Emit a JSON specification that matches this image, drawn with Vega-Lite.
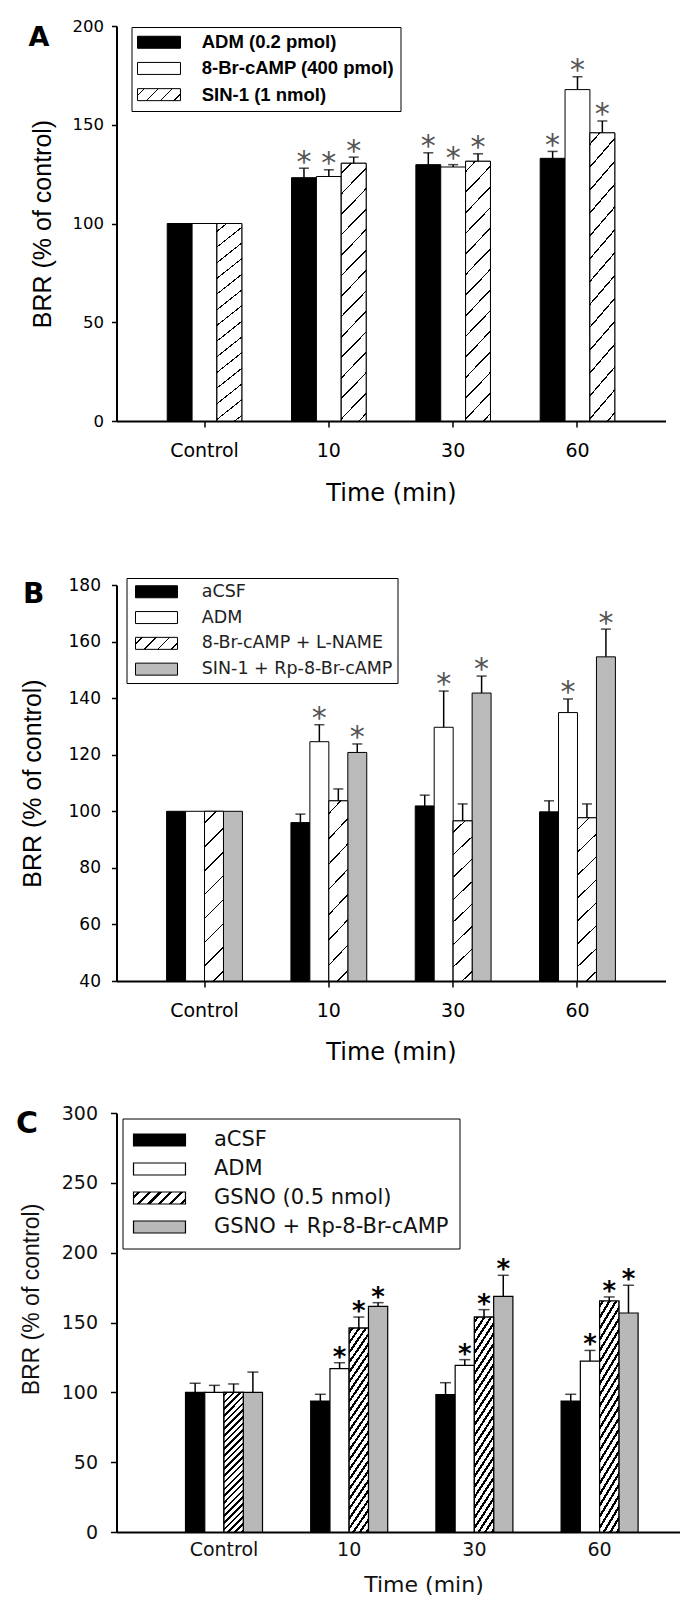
{
  "$schema": "https://vega.github.io/schema/vega-lite/v6.json",
  "padding": {"left": 15.5, "top": 18, "right": 2, "bottom": 2},
  "config": {"view": {"stroke": null}, "font": "DejaVu Sans", "axis": {"grid": false, "labelFlush": false}},
  "resolve": {"scale": {"color": "independent", "xOffset": "independent"}, "legend": {"color": "independent"}},
  "datasets": {
    "A": [
      {"time": "Control", "series": "ADM (0.2 pmol)", "mean": 100, "upper": null, "sig": false},
      {"time": "Control", "series": "8-Br-cAMP (400 pmol)", "mean": 100, "upper": null, "sig": false},
      {"time": "Control", "series": "SIN-1 (1 nmol)", "mean": 100, "upper": null, "sig": false},
      {"time": "10", "series": "ADM (0.2 pmol)", "mean": 123.2, "upper": 128, "sig": true},
      {"time": "10", "series": "8-Br-cAMP (400 pmol)", "mean": 123.8, "upper": 127.2, "sig": true},
      {"time": "10", "series": "SIN-1 (1 nmol)", "mean": 130.5, "upper": 133.6, "sig": true},
      {"time": "30", "series": "ADM (0.2 pmol)", "mean": 129.8, "upper": 135.8, "sig": true},
      {"time": "30", "series": "8-Br-cAMP (400 pmol)", "mean": 128.6, "upper": 129.8, "sig": true},
      {"time": "30", "series": "SIN-1 (1 nmol)", "mean": 131.5, "upper": 135.3, "sig": true},
      {"time": "60", "series": "ADM (0.2 pmol)", "mean": 133, "upper": 136.5, "sig": true},
      {"time": "60", "series": "8-Br-cAMP (400 pmol)", "mean": 167.8, "upper": 174.3, "sig": true},
      {"time": "60", "series": "SIN-1 (1 nmol)", "mean": 145.9, "upper": 151.9, "sig": true}
    ],
    "B": [
      {"time": "Control", "series": "aCSF", "mean": 100, "upper": null, "sig": false},
      {"time": "Control", "series": "ADM", "mean": 100, "upper": null, "sig": false},
      {"time": "Control", "series": "8-Br-cAMP + L-NAME", "mean": 100, "upper": null, "sig": false},
      {"time": "Control", "series": "SIN-1 + Rp-8-Br-cAMP", "mean": 100, "upper": null, "sig": false},
      {"time": "10", "series": "aCSF", "mean": 96, "upper": 99, "sig": false},
      {"time": "10", "series": "ADM", "mean": 124.6, "upper": 130.6, "sig": true},
      {"time": "10", "series": "8-Br-cAMP + L-NAME", "mean": 103.7, "upper": 107.9, "sig": false},
      {"time": "10", "series": "SIN-1 + Rp-8-Br-cAMP", "mean": 120.8, "upper": 123.8, "sig": true},
      {"time": "30", "series": "aCSF", "mean": 101.9, "upper": 105.7, "sig": false},
      {"time": "30", "series": "ADM", "mean": 129.7, "upper": 142.5, "sig": true},
      {"time": "30", "series": "8-Br-cAMP + L-NAME", "mean": 96.6, "upper": 102.6, "sig": false},
      {"time": "30", "series": "SIN-1 + Rp-8-Br-cAMP", "mean": 141.8, "upper": 147.8, "sig": true},
      {"time": "60", "series": "aCSF", "mean": 99.8, "upper": 103.7, "sig": false},
      {"time": "60", "series": "ADM", "mean": 134.9, "upper": 139.7, "sig": true},
      {"time": "60", "series": "8-Br-cAMP + L-NAME", "mean": 97.7, "upper": 102.6, "sig": false},
      {"time": "60", "series": "SIN-1 + Rp-8-Br-cAMP", "mean": 154.6, "upper": 164.4, "sig": true}
    ],
    "C": [
      {"time": "Control", "series": "aCSF", "mean": 100, "upper": 106.5, "sig": false},
      {"time": "Control", "series": "ADM", "mean": 100, "upper": 105, "sig": false},
      {"time": "Control", "series": "GSNO (0.5 nmol)", "mean": 100, "upper": 106, "sig": false},
      {"time": "Control", "series": "GSNO + Rp-8-Br-cAMP", "mean": 100, "upper": 114.5, "sig": false},
      {"time": "10", "series": "aCSF", "mean": 93.8, "upper": 98.6, "sig": false},
      {"time": "10", "series": "ADM", "mean": 117, "upper": 121.2, "sig": true},
      {"time": "10", "series": "GSNO (0.5 nmol)", "mean": 146, "upper": 153.9, "sig": true},
      {"time": "10", "series": "GSNO + Rp-8-Br-cAMP", "mean": 161.6, "upper": 164.2, "sig": true},
      {"time": "30", "series": "aCSF", "mean": 98.3, "upper": 106.9, "sig": false},
      {"time": "30", "series": "ADM", "mean": 119.3, "upper": 123.4, "sig": true},
      {"time": "30", "series": "GSNO (0.5 nmol)", "mean": 153.9, "upper": 159.2, "sig": true},
      {"time": "30", "series": "GSNO + Rp-8-Br-cAMP", "mean": 168.7, "upper": 183.8, "sig": true},
      {"time": "60", "series": "aCSF", "mean": 93.8, "upper": 98.6, "sig": false},
      {"time": "60", "series": "ADM", "mean": 122.4, "upper": 130, "sig": true},
      {"time": "60", "series": "GSNO (0.5 nmol)", "mean": 165.4, "upper": 168.3, "sig": true},
      {"time": "60", "series": "GSNO + Rp-8-Br-cAMP", "mean": 156.8, "upper": 176.6, "sig": true}
    ]
  },
  "spacing": 40,
  "vconcat": [
    {
      "spacing": 71,
      "resolve": {"scale": {"color": "independent", "xOffset": "independent"}, "legend": {"color": "independent"}},
      "vconcat": [
        {
          "width": 549, "height": 395,
          "title": {"text": "A", "orient": "top", "anchor": "start", "frame": "group", "offset": 0, "dx": -88, "dy": 34, "baseline": "top", "font": "DejaVu Sans", "fontSize": 27, "fontWeight": "bold", "color": "black"},
          "data": {"name": "A"},
          "encoding": {
            "x": {"field": "time", "type": "nominal", "title": "Time (min)",
              "scale": {"domain": ["Control", "10", "30", "60"], "paddingInner": 0.4, "paddingOuter": 0.408},
              "axis": {"labelAngle": 0, "domainColor": "black", "domainWidth": 2, "tickColor": "black", "tickSize": 6, "tickWidth": 1.5, "labelFont": "DejaVu Sans", "labelFontSize": 19, "labelColor": "black", "labelPadding": 14, "titleFont": "DejaVu Sans", "titleFontSize": 24, "titleFontWeight": "normal", "titleColor": "black", "titlePadding": 21}},
            "xOffset": {"field": "series", "type": "nominal", "scale": {"domain": ["ADM (0.2 pmol)", "8-Br-cAMP (400 pmol)", "SIN-1 (1 nmol)"], "paddingInner": 0, "paddingOuter": 0}}
          },
          "layer": [
            {
              "mark": {"type": "bar", "stroke": "black", "strokeWidth": 1},
              "encoding": {
                "y": {"field": "mean", "type": "quantitative", "title": "BRR (% of control)",
                  "scale": {"domain": [0, 200], "nice": false, "zero": false},
                  "axis": {"values": [0, 50, 100, 150, 200], "domainColor": "black", "domainWidth": 2, "tickColor": "black", "tickSize": 5, "tickWidth": 1.5, "labelFont": "DejaVu Sans", "labelFontSize": 16.5, "labelColor": "black", "labelPadding": 8, "titleFont": "Liberation Sans", "titleFontSize": 25, "titleFontWeight": "normal", "titleColor": "black", "titlePadding": 16.5}},
                "color": {"field": "series", "type": "nominal",
                  "scale": {"domain": ["ADM (0.2 pmol)", "8-Br-cAMP (400 pmol)", "SIN-1 (1 nmol)"], "range": ["black", "white", {"expr": "{gradient: 'linear', x1: 0, y1: 0, x2: 1.2, y2: 0.335, stops: [{offset: 0, color: 'white'}, {offset: 0.11, color: 'white'}, {offset: 0.11, color: 'black'}, {offset: 0.14, color: 'black'}, {offset: 0.14, color: 'white'}, {offset: 0.36, color: 'white'}, {offset: 0.36, color: 'black'}, {offset: 0.39, color: 'black'}, {offset: 0.39, color: 'white'}, {offset: 0.61, color: 'white'}, {offset: 0.61, color: 'black'}, {offset: 0.64, color: 'black'}, {offset: 0.64, color: 'white'}, {offset: 0.86, color: 'white'}, {offset: 0.86, color: 'black'}, {offset: 0.89, color: 'black'}, {offset: 0.89, color: 'white'}, {offset: 1, color: 'white'}]}"}]},
                  "legend": {"title": null, "orient": "none", "legendX": 15, "legendY": 1, "direction": "vertical", "strokeColor": "black", "fillColor": "white", "padding": 6,
                    "symbolType": "M-3.58,-1H3.58V1H-3.58Z", "symbolSize": 144, "symbolStrokeWidth": 1, "symbolStrokeColor": "black", "symbolOffset": 12.25,
                    "labelFont": "Liberation Sans", "labelFontSize": 18.5, "labelFontWeight": "bold", "labelColor": "black", "labelOffset": 33.5, "labelLimit": 400, "rowPadding": 7.2}}
              }
            },
            {
              "transform": [{"filter": "datum.series === 'SIN-1 (1 nmol)'"}],
              "mark": {"type": "bar", "stroke": "black", "strokeWidth": 1, "fill": {"gradient": "linear", "x1": 0, "y1": 0, "x2": 0.11, "y2": 1.1, "stops": [
                {"offset": 0, "color": "white"},
                {"offset": 0.0327, "color": "white"}, {"offset": 0.0327, "color": "black"}, {"offset": 0.0387, "color": "black"}, {"offset": 0.0387, "color": "white"},
                {"offset": 0.1041, "color": "white"}, {"offset": 0.1041, "color": "black"}, {"offset": 0.1101, "color": "black"}, {"offset": 0.1101, "color": "white"},
                {"offset": 0.1756, "color": "white"}, {"offset": 0.1756, "color": "black"}, {"offset": 0.1816, "color": "black"}, {"offset": 0.1816, "color": "white"},
                {"offset": 0.247, "color": "white"}, {"offset": 0.247, "color": "black"}, {"offset": 0.253, "color": "black"}, {"offset": 0.253, "color": "white"},
                {"offset": 0.3184, "color": "white"}, {"offset": 0.3184, "color": "black"}, {"offset": 0.3244, "color": "black"}, {"offset": 0.3244, "color": "white"},
                {"offset": 0.3899, "color": "white"}, {"offset": 0.3899, "color": "black"}, {"offset": 0.3959, "color": "black"}, {"offset": 0.3959, "color": "white"},
                {"offset": 0.4613, "color": "white"}, {"offset": 0.4613, "color": "black"}, {"offset": 0.4673, "color": "black"}, {"offset": 0.4673, "color": "white"},
                {"offset": 0.5327, "color": "white"}, {"offset": 0.5327, "color": "black"}, {"offset": 0.5387, "color": "black"}, {"offset": 0.5387, "color": "white"},
                {"offset": 0.6041, "color": "white"}, {"offset": 0.6041, "color": "black"}, {"offset": 0.6101, "color": "black"}, {"offset": 0.6101, "color": "white"},
                {"offset": 0.6756, "color": "white"}, {"offset": 0.6756, "color": "black"}, {"offset": 0.6816, "color": "black"}, {"offset": 0.6816, "color": "white"},
                {"offset": 0.747, "color": "white"}, {"offset": 0.747, "color": "black"}, {"offset": 0.753, "color": "black"}, {"offset": 0.753, "color": "white"},
                {"offset": 0.8184, "color": "white"}, {"offset": 0.8184, "color": "black"}, {"offset": 0.8244, "color": "black"}, {"offset": 0.8244, "color": "white"},
                {"offset": 0.8899, "color": "white"}, {"offset": 0.8899, "color": "black"}, {"offset": 0.8959, "color": "black"}, {"offset": 0.8959, "color": "white"},
                {"offset": 0.9613, "color": "white"}, {"offset": 0.9613, "color": "black"}, {"offset": 0.9673, "color": "black"}, {"offset": 0.9673, "color": "white"},
                {"offset": 1, "color": "white"}]}},
              "encoding": {"y": {"field": "mean", "type": "quantitative", "title": "BRR (% of control)"}}
            },
            {
              "transform": [{"filter": "datum.upper != null"}],
              "mark": {"type": "rule", "color": "black", "strokeWidth": 1.5},
              "encoding": {"y": {"field": "mean", "type": "quantitative", "title": "BRR (% of control)"}, "y2": {"field": "upper"}}
            },
            {
              "transform": [{"filter": "datum.upper != null"}],
              "mark": {"type": "tick", "orient": "horizontal", "size": 10, "thickness": 1.5, "color": "black"},
              "encoding": {"y": {"field": "upper", "type": "quantitative", "title": "BRR (% of control)"}}
            },
            {
              "transform": [{"filter": "datum.sig"}],
              "mark": {"type": "text", "text": "*", "font": "DejaVu Sans", "fontSize": 30, "color": "#555", "baseline": "alphabetic", "dy": 3.4},
              "encoding": {"y": {"field": "upper", "type": "quantitative", "title": "BRR (% of control)"}}
            }
          ]
        },
        {
          "width": 549, "height": 396,
          "title": {"text": "B", "orient": "top", "anchor": "start", "frame": "group", "offset": 0, "dx": -93.5, "dy": 33, "baseline": "top", "font": "DejaVu Sans", "fontSize": 28, "fontWeight": "bold", "color": "black"},
          "data": {"name": "B"},
          "encoding": {
            "x": {"field": "time", "type": "nominal", "title": "Time (min)",
              "scale": {"domain": ["Control", "10", "30", "60"], "paddingInner": 0.39, "paddingOuter": 0.403},
              "axis": {"labelAngle": 0, "domainColor": "black", "domainWidth": 2, "tickColor": "black", "tickSize": 6, "tickWidth": 1.5, "labelFont": "DejaVu Sans", "labelFontSize": 19, "labelColor": "black", "labelPadding": 14, "titleFont": "DejaVu Sans", "titleFontSize": 24, "titleFontWeight": "normal", "titleColor": "black", "titlePadding": 20}},
            "xOffset": {"field": "series", "type": "nominal", "scale": {"domain": ["aCSF", "ADM", "8-Br-cAMP + L-NAME", "SIN-1 + Rp-8-Br-cAMP"], "paddingInner": 0, "paddingOuter": 0}}
          },
          "layer": [
            {
              "mark": {"type": "bar", "stroke": "black", "strokeWidth": 1},
              "encoding": {
                "y": {"field": "mean", "type": "quantitative", "title": "BRR (% of control)",
                  "scale": {"domain": [40, 180], "nice": false, "zero": false},
                  "axis": {"values": [40, 60, 80, 100, 120, 140, 160, 180], "domainColor": "black", "domainWidth": 2, "tickColor": "black", "tickSize": 5, "tickWidth": 1.5, "labelFont": "DejaVu Sans", "labelFontSize": 17, "labelColor": "black", "labelPadding": 11, "titleFont": "Liberation Sans", "titleFontSize": 25, "titleFontWeight": "normal", "titleColor": "black", "titlePadding": 22.6}},
                "y2": {"datum": 40},
                "color": {"field": "series", "type": "nominal",
                  "scale": {"domain": ["aCSF", "ADM", "8-Br-cAMP + L-NAME", "SIN-1 + Rp-8-Br-cAMP"], "range": ["black", "white", {"expr": "{gradient: 'linear', x1: 0, y1: 0, x2: 1.2, y2: 0.343, stops: [{offset: 0, color: 'white'}, {offset: 0.11, color: 'white'}, {offset: 0.11, color: 'black'}, {offset: 0.14, color: 'black'}, {offset: 0.14, color: 'white'}, {offset: 0.36, color: 'white'}, {offset: 0.36, color: 'black'}, {offset: 0.39, color: 'black'}, {offset: 0.39, color: 'white'}, {offset: 0.61, color: 'white'}, {offset: 0.61, color: 'black'}, {offset: 0.64, color: 'black'}, {offset: 0.64, color: 'white'}, {offset: 0.86, color: 'white'}, {offset: 0.86, color: 'black'}, {offset: 0.89, color: 'black'}, {offset: 0.89, color: 'white'}, {offset: 1, color: 'white'}]}"}, "#bababa"]},
                  "legend": {"title": null, "orient": "none", "legendX": 10, "legendY": -7, "direction": "vertical", "strokeColor": "black", "fillColor": "white", "padding": 5,
                    "symbolType": "M-3.5,-1H3.5V1H-3.5Z", "symbolSize": 144, "symbolStrokeWidth": 1, "symbolStrokeColor": "black", "symbolOffset": 16.25,
                    "labelFont": "DejaVu Sans", "labelFontSize": 17.5, "labelFontWeight": "normal", "labelColor": "#222", "labelOffset": 36.5, "labelLimit": 400, "rowPadding": 6.8}}
              }
            },
            {
              "transform": [{"filter": "datum.series === '8-Br-cAMP + L-NAME'"}],
              "mark": {"type": "bar", "stroke": "black", "strokeWidth": 1, "fill": {"gradient": "linear", "x1": 0, "y1": 0, "x2": 0.124, "y2": 1.109, "stops": [
                {"offset": 0, "color": "white"},
                {"offset": 0.0585, "color": "white"}, {"offset": 0.0585, "color": "black"}, {"offset": 0.0665, "color": "black"}, {"offset": 0.0665, "color": "white"},
                {"offset": 0.1835, "color": "white"}, {"offset": 0.1835, "color": "black"}, {"offset": 0.1915, "color": "black"}, {"offset": 0.1915, "color": "white"},
                {"offset": 0.3085, "color": "white"}, {"offset": 0.3085, "color": "black"}, {"offset": 0.3165, "color": "black"}, {"offset": 0.3165, "color": "white"},
                {"offset": 0.4335, "color": "white"}, {"offset": 0.4335, "color": "black"}, {"offset": 0.4415, "color": "black"}, {"offset": 0.4415, "color": "white"},
                {"offset": 0.5585, "color": "white"}, {"offset": 0.5585, "color": "black"}, {"offset": 0.5665, "color": "black"}, {"offset": 0.5665, "color": "white"},
                {"offset": 0.6835, "color": "white"}, {"offset": 0.6835, "color": "black"}, {"offset": 0.6915, "color": "black"}, {"offset": 0.6915, "color": "white"},
                {"offset": 0.8085, "color": "white"}, {"offset": 0.8085, "color": "black"}, {"offset": 0.8165, "color": "black"}, {"offset": 0.8165, "color": "white"},
                {"offset": 0.9335, "color": "white"}, {"offset": 0.9335, "color": "black"}, {"offset": 0.9415, "color": "black"}, {"offset": 0.9415, "color": "white"},
                {"offset": 1, "color": "white"}]}},
              "encoding": {"y": {"field": "mean", "type": "quantitative", "title": "BRR (% of control)"}, "y2": {"datum": 40}}
            },
            {
              "transform": [{"filter": "datum.upper != null"}],
              "mark": {"type": "rule", "color": "black", "strokeWidth": 1.5},
              "encoding": {"y": {"field": "mean", "type": "quantitative", "title": "BRR (% of control)"}, "y2": {"field": "upper"}}
            },
            {
              "transform": [{"filter": "datum.upper != null"}],
              "mark": {"type": "tick", "orient": "horizontal", "size": 10, "thickness": 1.5, "color": "black"},
              "encoding": {"y": {"field": "upper", "type": "quantitative", "title": "BRR (% of control)"}}
            },
            {
              "transform": [{"filter": "datum.sig"}],
              "mark": {"type": "text", "text": "*", "font": "DejaVu Sans", "fontSize": 30, "color": "#555", "baseline": "alphabetic", "dy": 3.4},
              "encoding": {"y": {"field": "upper", "type": "quantitative", "title": "BRR (% of control)"}}
            }
          ]
        }
      ]
    },
    {
      "width": 563, "height": 419,
      "title": {"text": "C", "orient": "top", "anchor": "start", "frame": "group", "offset": 0, "dx": -100.5, "dy": 35, "baseline": "top", "font": "DejaVu Sans", "fontSize": 30, "fontWeight": "bold", "color": "black"},
      "data": {"name": "C"},
      "encoding": {
        "x": {"field": "time", "type": "nominal", "title": "Time (min)",
          "scale": {"domain": ["Control", "10", "30", "60"], "paddingInner": 0.385, "paddingOuter": 0.441, "align": 0.625},
          "axis": {"labelAngle": 0, "domainColor": "black", "domainWidth": 2, "ticks": false, "tickSize": 0, "labelFont": "DejaVu Sans", "labelFontSize": 19, "labelColor": "#111", "labelPadding": 8, "titleFont": "DejaVu Sans", "titleFontSize": 22, "titleFontWeight": "normal", "titleColor": "#111", "titlePadding": 15.6, "titleX": 307}},
        "xOffset": {"field": "series", "type": "nominal", "scale": {"domain": ["aCSF", "ADM", "GSNO (0.5 nmol)", "GSNO + Rp-8-Br-cAMP"], "paddingInner": 0, "paddingOuter": 0}}
      },
      "layer": [
        {
          "mark": {"type": "bar", "stroke": "black", "strokeWidth": 1.2},
          "encoding": {
            "y": {"field": "mean", "type": "quantitative", "title": "BRR (% of control)",
              "scale": {"domain": [0, 300], "nice": false, "zero": false},
              "axis": {"values": [0, 50, 100, 150, 200, 250, 300], "domainColor": "black", "domainWidth": 2, "tickColor": "black", "tickSize": 6, "tickWidth": 1.5, "labelFont": "DejaVu Sans", "labelFontSize": 19, "labelColor": "#111", "labelPadding": 13, "titleFont": "Liberation Sans", "titleFontSize": 23, "titleFontWeight": "normal", "titleColor": "#111", "titlePadding": 17.7, "titleY": 186}},
            "color": {"field": "series", "type": "nominal",
              "scale": {"domain": ["aCSF", "ADM", "GSNO (0.5 nmol)", "GSNO + Rp-8-Br-cAMP"], "range": ["black", "white", {"expr": "{gradient: 'linear', x1: 0, y1: 0, x2: 1.18, y2: 0.272, stops: [{offset: 0, color: 'white'}, {offset: 0.0583, color: 'white'}, {offset: 0.0583, color: 'black'}, {offset: 0.1083, color: 'black'}, {offset: 0.1083, color: 'white'}, {offset: 0.225, color: 'white'}, {offset: 0.225, color: 'black'}, {offset: 0.275, color: 'black'}, {offset: 0.275, color: 'white'}, {offset: 0.3917, color: 'white'}, {offset: 0.3917, color: 'black'}, {offset: 0.4417, color: 'black'}, {offset: 0.4417, color: 'white'}, {offset: 0.5583, color: 'white'}, {offset: 0.5583, color: 'black'}, {offset: 0.6083, color: 'black'}, {offset: 0.6083, color: 'white'}, {offset: 0.725, color: 'white'}, {offset: 0.725, color: 'black'}, {offset: 0.775, color: 'black'}, {offset: 0.775, color: 'white'}, {offset: 0.8917, color: 'white'}, {offset: 0.8917, color: 'black'}, {offset: 0.9417, color: 'black'}, {offset: 0.9417, color: 'white'}, {offset: 1, color: 'white'}]}"}, "#b8b8b8"]},
              "legend": {"title": null, "orient": "none", "legendX": 6, "legendY": 5.5, "direction": "vertical", "strokeColor": "black", "fillColor": "white", "padding": 11,
                "symbolType": "M-4.33,-1H4.33V1H-4.33Z", "symbolSize": 144, "symbolStrokeWidth": 1.2, "symbolStrokeColor": "black", "symbolOffset": 15.5,
                "labelFont": "DejaVu Sans", "labelFontSize": 21, "labelFontWeight": "normal", "labelColor": "#111", "labelOffset": 44, "labelLimit": 400, "rowPadding": 7}}
          }
        },
        {
          "transform": [{"filter": "datum.series === 'GSNO (0.5 nmol)'"}],
          "mark": {"type": "bar", "stroke": "black", "strokeWidth": 1.2, "fill": {"gradient": "linear", "x1": 0, "y1": 0, "x2": 0.156, "y2": 1.128, "stops": [
            {"offset": 0, "color": "white"},
            {"offset": 0.0128, "color": "white"}, {"offset": 0.0128, "color": "black"}, {"offset": 0.0288, "color": "black"}, {"offset": 0.0288, "color": "white"},
            {"offset": 0.0545, "color": "white"}, {"offset": 0.0545, "color": "black"}, {"offset": 0.0705, "color": "black"}, {"offset": 0.0705, "color": "white"},
            {"offset": 0.0962, "color": "white"}, {"offset": 0.0962, "color": "black"}, {"offset": 0.1122, "color": "black"}, {"offset": 0.1122, "color": "white"},
            {"offset": 0.1378, "color": "white"}, {"offset": 0.1378, "color": "black"}, {"offset": 0.1538, "color": "black"}, {"offset": 0.1538, "color": "white"},
            {"offset": 0.1795, "color": "white"}, {"offset": 0.1795, "color": "black"}, {"offset": 0.1955, "color": "black"}, {"offset": 0.1955, "color": "white"},
            {"offset": 0.2212, "color": "white"}, {"offset": 0.2212, "color": "black"}, {"offset": 0.2372, "color": "black"}, {"offset": 0.2372, "color": "white"},
            {"offset": 0.2628, "color": "white"}, {"offset": 0.2628, "color": "black"}, {"offset": 0.2788, "color": "black"}, {"offset": 0.2788, "color": "white"},
            {"offset": 0.3045, "color": "white"}, {"offset": 0.3045, "color": "black"}, {"offset": 0.3205, "color": "black"}, {"offset": 0.3205, "color": "white"},
            {"offset": 0.3462, "color": "white"}, {"offset": 0.3462, "color": "black"}, {"offset": 0.3622, "color": "black"}, {"offset": 0.3622, "color": "white"},
            {"offset": 0.3878, "color": "white"}, {"offset": 0.3878, "color": "black"}, {"offset": 0.4038, "color": "black"}, {"offset": 0.4038, "color": "white"},
            {"offset": 0.4295, "color": "white"}, {"offset": 0.4295, "color": "black"}, {"offset": 0.4455, "color": "black"}, {"offset": 0.4455, "color": "white"},
            {"offset": 0.4712, "color": "white"}, {"offset": 0.4712, "color": "black"}, {"offset": 0.4872, "color": "black"}, {"offset": 0.4872, "color": "white"},
            {"offset": 0.5128, "color": "white"}, {"offset": 0.5128, "color": "black"}, {"offset": 0.5288, "color": "black"}, {"offset": 0.5288, "color": "white"},
            {"offset": 0.5545, "color": "white"}, {"offset": 0.5545, "color": "black"}, {"offset": 0.5705, "color": "black"}, {"offset": 0.5705, "color": "white"},
            {"offset": 0.5962, "color": "white"}, {"offset": 0.5962, "color": "black"}, {"offset": 0.6122, "color": "black"}, {"offset": 0.6122, "color": "white"},
            {"offset": 0.6378, "color": "white"}, {"offset": 0.6378, "color": "black"}, {"offset": 0.6538, "color": "black"}, {"offset": 0.6538, "color": "white"},
            {"offset": 0.6795, "color": "white"}, {"offset": 0.6795, "color": "black"}, {"offset": 0.6955, "color": "black"}, {"offset": 0.6955, "color": "white"},
            {"offset": 0.7212, "color": "white"}, {"offset": 0.7212, "color": "black"}, {"offset": 0.7372, "color": "black"}, {"offset": 0.7372, "color": "white"},
            {"offset": 0.7628, "color": "white"}, {"offset": 0.7628, "color": "black"}, {"offset": 0.7788, "color": "black"}, {"offset": 0.7788, "color": "white"},
            {"offset": 0.8045, "color": "white"}, {"offset": 0.8045, "color": "black"}, {"offset": 0.8205, "color": "black"}, {"offset": 0.8205, "color": "white"},
            {"offset": 0.8462, "color": "white"}, {"offset": 0.8462, "color": "black"}, {"offset": 0.8622, "color": "black"}, {"offset": 0.8622, "color": "white"},
            {"offset": 0.8878, "color": "white"}, {"offset": 0.8878, "color": "black"}, {"offset": 0.9038, "color": "black"}, {"offset": 0.9038, "color": "white"},
            {"offset": 0.9295, "color": "white"}, {"offset": 0.9295, "color": "black"}, {"offset": 0.9455, "color": "black"}, {"offset": 0.9455, "color": "white"},
            {"offset": 0.9712, "color": "white"}, {"offset": 0.9712, "color": "black"}, {"offset": 0.9872, "color": "black"}, {"offset": 0.9872, "color": "white"},
            {"offset": 1, "color": "white"}]}},
          "encoding": {"y": {"field": "mean", "type": "quantitative", "title": "BRR (% of control)"}}
        },
        {
          "mark": {"type": "rule", "color": "black", "strokeWidth": 1.5},
          "encoding": {"y": {"field": "mean", "type": "quantitative", "title": "BRR (% of control)"}, "y2": {"field": "upper"}}
        },
        {
          "mark": {"type": "tick", "orient": "horizontal", "size": 11, "thickness": 1.5, "color": "black"},
          "encoding": {"y": {"field": "upper", "type": "quantitative", "title": "BRR (% of control)"}}
        },
        {
          "transform": [{"filter": "datum.sig"}],
          "mark": {"type": "text", "text": "*", "font": "DejaVu Sans", "fontSize": 26, "fontWeight": "bold", "color": "black", "baseline": "alphabetic", "dy": 3},
          "encoding": {"y": {"field": "upper", "type": "quantitative", "title": "BRR (% of control)"}}
        }
      ]
    }
  ]
}
